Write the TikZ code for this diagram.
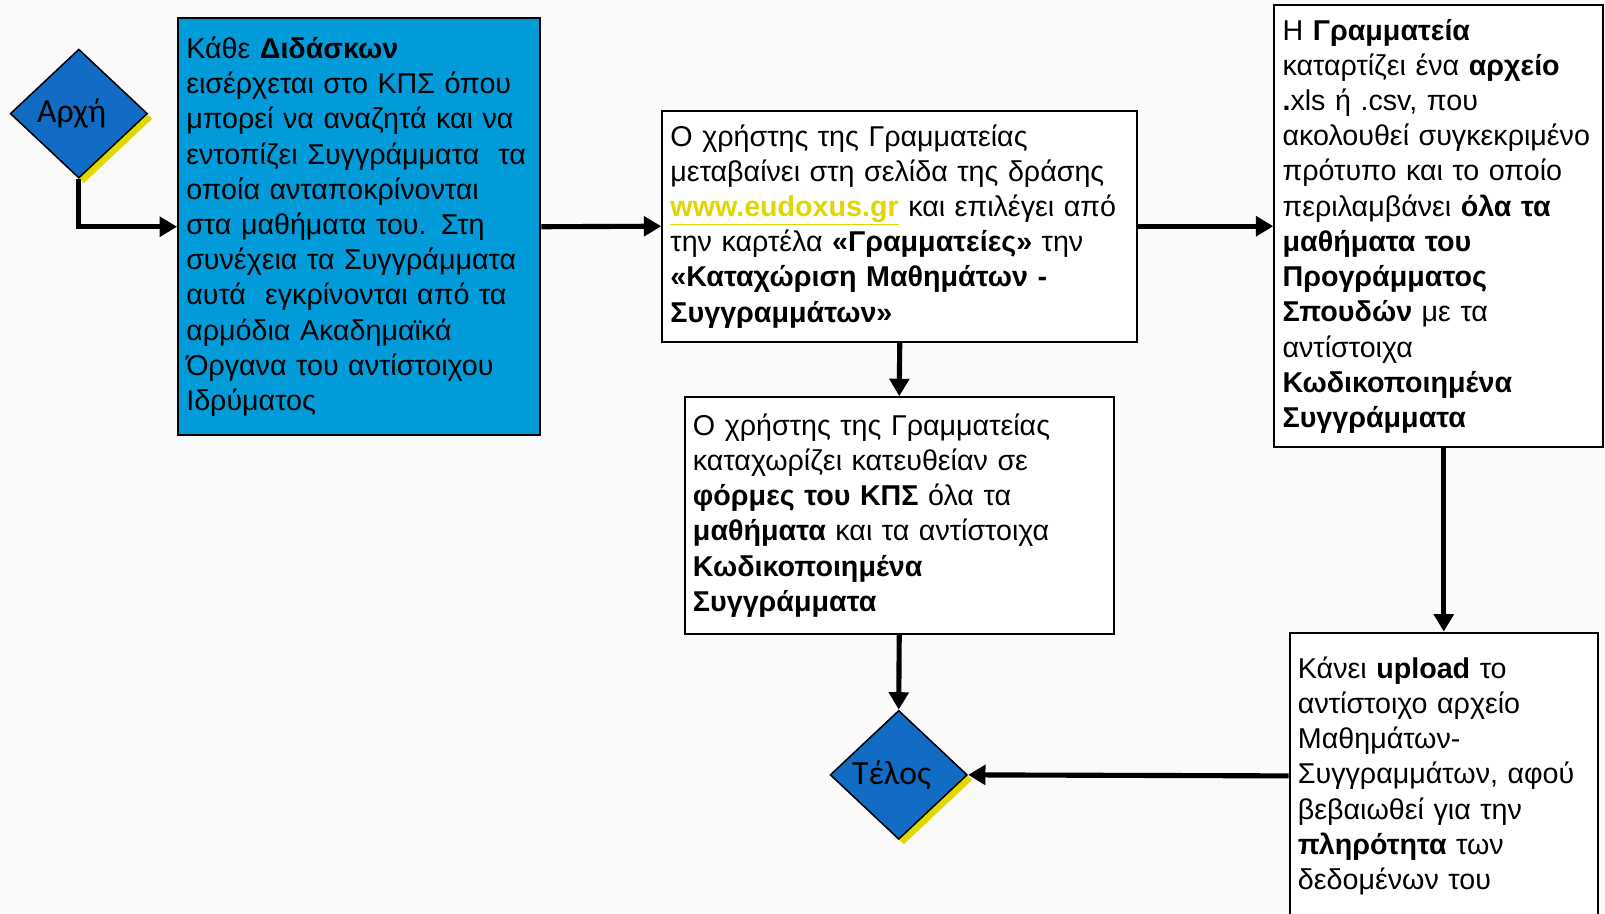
\documentclass[tikz,border=0pt]{standalone}
\usepackage{fontspec}
\setmainfont{Liberation Sans}
\newfontfamily\diamondfont{Carlito}
\usetikzlibrary{arrows.meta,shapes.geometric,shadows,positioning}
\definecolor{boxblue}{RGB}{0,155,216}
\definecolor{diablue}{RGB}{18,108,196}
\definecolor{shadowyellow}{RGB}{224,216,0}
\definecolor{linkyellow}{RGB}{226,214,0}
\definecolor{bgpaper}{RGB}{250,250,250}

\begin{document}
\begin{tikzpicture}[x=1pt,y=-1pt,
    every node/.style={font=\fontsize{28}{34.4}\selectfont},
    stepbox/.style={draw, line width=2pt, fill=white, align=left, inner xsep=8pt, inner ysep=0pt},
    terminal/.style={diamond, draw, line width=1.5pt, fill=diablue, inner sep=0pt,
      minimum width=134pt, minimum height=126pt, font=\diamondfont\fontsize{33}{36}\selectfont,
      drop shadow={shadow xshift=5pt, shadow yshift=-5pt, fill=shadowyellow, opacity=1}},
    flow/.style={-{Triangle[length=17pt,width=19pt]}, line width=5pt}]
      \fill[bgpaper] (0,0) rectangle (1568,892);
      \useasboundingbox (0,0) rectangle (1568,892);
      \node[terminal] at (77,111) (start) {\hspace*{-14pt}Αρχή};
      \node[stepbox, fill=boxblue, text width=338pt, minimum height=407pt] at (351,221.5) (did)
        {Κάθε \textbf{Διδάσκων}\\ εισέρχεται στο ΚΠΣ όπου\\ μπορεί να αναζητά και να\\
         εντοπίζει Συγγράμματα\ \ τα\\ οποία ανταποκρίνονται\\ στα μαθήματα του. Στη\\
         συνέχεια τα Συγγράμματα\\ αυτά\ \ εγκρίνονται από τα\\ αρμόδια Ακαδημαϊκά\\
         Όργανα του αντίστοιχου\\ Ιδρύματος};
      \node[stepbox, text width=448pt, minimum height=226pt] at (879,221) (visit)
        {Ο χρήστης της Γραμματείας\\ μεταβαίνει στη σελίδα της δράσης\\
         {\color{linkyellow}\underline{\textbf{www.eudoxus.gr}}} και επιλέγει από\\
         την καρτέλα \textbf{«Γραμματείες»} την\\ \textbf{«Καταχώριση Μαθημάτων -}\\
         \textbf{Συγγραμμάτων»}};
      \node[stepbox, text width=403pt, minimum height=231pt] at (878.5,503.5) (direct)
        {Ο χρήστης της Γραμματείας\\ καταχωρίζει κατευθείαν σε\\
         \textbf{φόρμες του ΚΠΣ} όλα τα\\ \textbf{μαθήματα} και τα αντίστοιχα\\
         \textbf{Κωδικοποιημένα}\\ \textbf{Συγγράμματα}};
      \node[stepbox, text width=305pt, minimum height=432pt] at (1405.5,221) (file)
        {Η \textbf{Γραμματεία}\\ καταρτίζει ένα \textbf{αρχείο}\\ \textbf{.}xls ή .csv, που\\
         ακολουθεί συγκεκριμένο\\ πρότυπο και το οποίο\\ περιλαμβάνει \textbf{όλα τα}\\
         \textbf{μαθήματα του}\\ \textbf{Προγράμματος}\\ \textbf{Σπουδών} με τα\\
         αντίστοιχα\\ \textbf{Κωδικοποιημένα}\\ \textbf{Συγγράμματα}};
      \node[stepbox, text width=285pt, minimum height=280pt] at (1410.5,758) (upload)
        {Κάνει \textbf{upload} το\\ αντίστοιχο αρχείο\\ Μαθημάτων-\\
         Συγγραμμάτων, αφού\\ βεβαιωθεί για την\\ \textbf{πληρότητα} των\\
         δεδομένων του};
      \node[terminal] at (878,757) (end) {\hspace*{-14pt}Τέλος};
      \draw[flow] (start.south) |- (did.west);
      \draw[flow] (did.east) -- (visit.west);
      \draw[flow] (visit.east) -- (file.west);
      \draw[flow] (visit.south) -- (direct.north);
      \draw[flow] (file.south -| upload.north) -- (upload.north);
      \draw[flow] (direct.south) -- (end.north);
      \draw[flow] (upload.west) -- (end.east);
\end{tikzpicture}
\end{document}
